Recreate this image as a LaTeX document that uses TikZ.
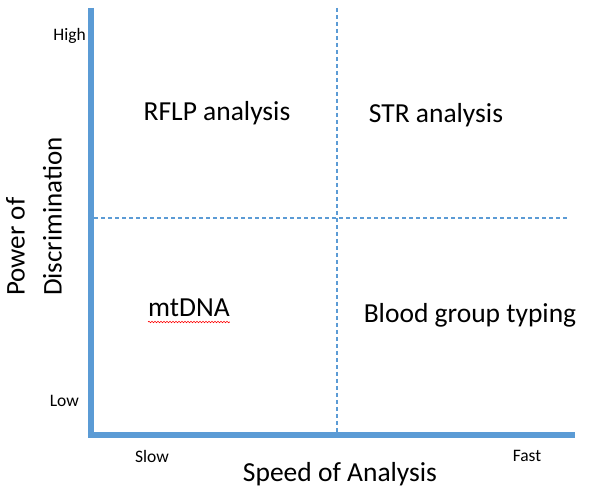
\documentclass[tikz,border=0pt]{standalone}
\usepackage{fontspec}
\setmainfont{Carlito}
\usetikzlibrary{positioning,decorations.pathmorphing}
\definecolor{axisblue}{RGB}{91,155,213}

\begin{document}
\begin{tikzpicture}[x=1pt,y=-1pt,
    axisline/.style={draw=axisblue,line width=6pt},
    divline/.style={draw=axisblue,line width=1.2pt,dash pattern=on 4pt off 3pt},
    quadlbl/.style={font=\fontsize{27.5}{33}\selectfont,anchor=base,inner sep=0pt},
    ticklbl/.style={font=\fontsize{17.5}{21}\selectfont,anchor=base,inner sep=0pt}]
    \useasboundingbox (0,0) rectangle (606,497);
    % axes
    \coordinate (top) at (91,8);
    \coordinate (origin) at (91,435);
    \coordinate (right) at (575,435);
    \draw[axisline] (top) -- (origin) -- (right);
    % quadrant dividers
    \coordinate (vtop) at (337,8);
    \coordinate (vbot) at (337,432);
    \coordinate (hleft) at (94,218);
    \coordinate (hright) at (567,218);
    \draw[divline] (vtop) -- (vbot);
    \draw[divline] (hleft) -- (hright);
    % axis labels
    \node[ticklbl,anchor=base east] (high) at (86,41) {High};
    \node[ticklbl,anchor=base east] (low) at (79,407) {Low};
    \node[ticklbl] (slow) at (152,463) {Slow};
    \node[ticklbl] (fast) at (527,462) {Fast};
    \node[quadlbl] (speed) at (340,482) {Speed of Analysis};
    \node[font=\fontsize{27}{37}\selectfont,rotate=90,align=left,inner sep=0pt,anchor=west] (power) at (34,296) {Power of\\Discrimination};
    % quadrants
    \node[quadlbl] (rflp) at (217,121) {RFLP analysis};
    \node[quadlbl] (str) at (436,123) {STR analysis};
    \node[quadlbl] (mtdna) at (189,317) {mtDNA};
    \node[quadlbl] (blood) at (470,323) {Blood group typing};
    \draw[red,line width=0.6pt,decorate,decoration={snake,amplitude=0.8pt,segment length=3pt}]
        ([yshift=-5pt]mtdna.base west) -- ([yshift=-5pt]mtdna.base east);
\end{tikzpicture}
\end{document}
